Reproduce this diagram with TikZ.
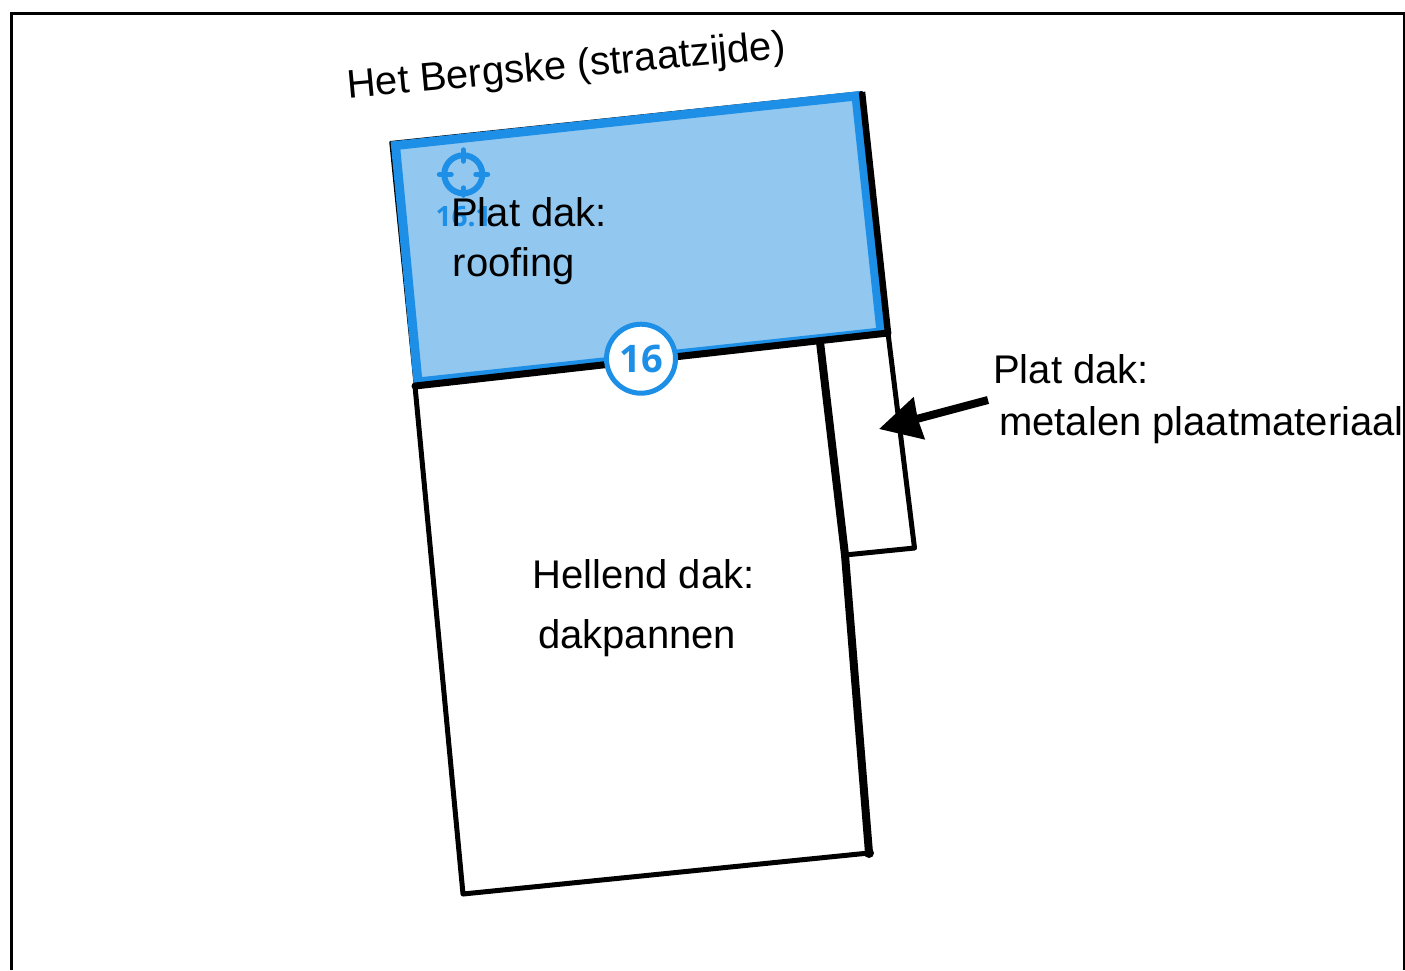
\documentclass[tikz,border=0pt]{standalone}
\usepackage{fontspec}
\setmainfont{Liberation Sans}
\newfontfamily\markfont{Open Sans}
\usetikzlibrary{arrows.meta}
\definecolor{markblue}{HTML}{1E8FE6}
\definecolor{roofblue}{HTML}{92C8F0}
\begin{document}
\begin{tikzpicture}[x=1pt,y=-1pt,
   label text/.style={anchor=base west,inner sep=0pt,font=\fontsize{40}{48}\selectfont},
   wall/.style={draw,line width=8pt,line cap=round,line join=round},
   thin wall/.style={draw,line width=5pt,line cap=round,line join=round},
   pointer/.style={line width=8pt,-{Stealth[length=41pt,width=42pt,inset=1pt]}},
   mark tick/.style={draw=markblue,line width=5.5pt,line cap=round}]
\useasboundingbox (0,0) rectangle (1405,970);
% frame, open at the bottom
\coordinate (frameBL) at (11.5,970);
\coordinate (frameTL) at (11.5,13);
\coordinate (frameTR) at (1404,13);
\coordinate (frameBR) at (1404,970);
\draw[line width=3pt] (frameBL) -- (frameTL) -- (frameTR) -- (frameBR);
% corners of the roofs
\coordinate (roofA) at (390.5,142);
\coordinate (roofB) at (862,92);
\coordinate (roofC) at (888,333);
\coordinate (roofD) at (415,386);
\coordinate (houseB) at (463,894);
\coordinate (houseC) at (869,853);
\coordinate (annexT) at (820,342);
\coordinate (annexM) at (845,555);
\coordinate (annexR) at (914.5,548);
% blue area
\coordinate (blueA) at (395.5,145.5);
\coordinate (blueB) at (856,96);
\coordinate (blueC) at (881,332);
\coordinate (blueD) at (418,382);
\draw[thin wall,line width=2pt] (roofA) -- (roofB);
\draw[thin wall,line width=2.5pt] (roofA) -- (roofD);
\draw[draw=markblue,fill=roofblue,line width=9pt,line join=miter] (blueA) -- (blueB) -- (blueC) -- (blueD) -- cycle;
\draw[wall,line width=6.5pt,line cap=butt] (roofB) -- (roofC);
\draw[wall,line width=7pt] (roofD) -- (roofC);
% house and annex
\draw[thin wall] (roofD) -- (houseB) -- (houseC);
\draw[wall,line cap=butt] (annexT) -- (annexM) -- (houseC);
\draw[thin wall] (roofC) -- (annexR) -- (annexM);
\fill (houseC) circle (5pt);
% labels
\node[label text,rotate=5.3] (street) at (348,98.5) {Het Bergske (straatzijde)};
\node[inner sep=0pt,font=\markfont\bfseries\fontsize{28}{28}\selectfont,text=markblue] (markSub) at (463.5,217) {16.1};
\node[label text] (flatA) at (451,226) {Plat dak:};
\node[label text] (flatB) at (452.5,276) {roofing};
\node[label text] (slopeA) at (532,588) {Hellend dak:};
\node[label text] (slopeB) at (538,648) {dakpannen};
\node[label text] (metalA) at (993,383) {Plat dak:};
\node[label text] (metalB) at (999,435) {metalen plaatmateriaal};
% target mark
\node[circle,draw=markblue,line width=6pt,minimum size=38pt,inner sep=0pt] (target) at (463.3,174.3) {};
\draw[mark tick] (463.3,150) -- (463.3,161);
\draw[mark tick] (463.3,188) -- (463.3,195);
\draw[mark tick] (439.5,174.3) -- (451,174.3);
\draw[mark tick] (476,174.3) -- (487.5,174.3);
% round number
\node[circle,draw=markblue,fill=white,line width=5pt,minimum size=69pt,inner sep=0pt,text=markblue,font=\markfont\bfseries\fontsize{38}{38}\selectfont] (number) at (641,358.7) {16};
% arrow
\coordinate (arrowFrom) at (988,400);
\coordinate (arrowTo) at (879,429);
\draw[pointer] (arrowFrom) -- (arrowTo);
\end{tikzpicture}
\end{document}
